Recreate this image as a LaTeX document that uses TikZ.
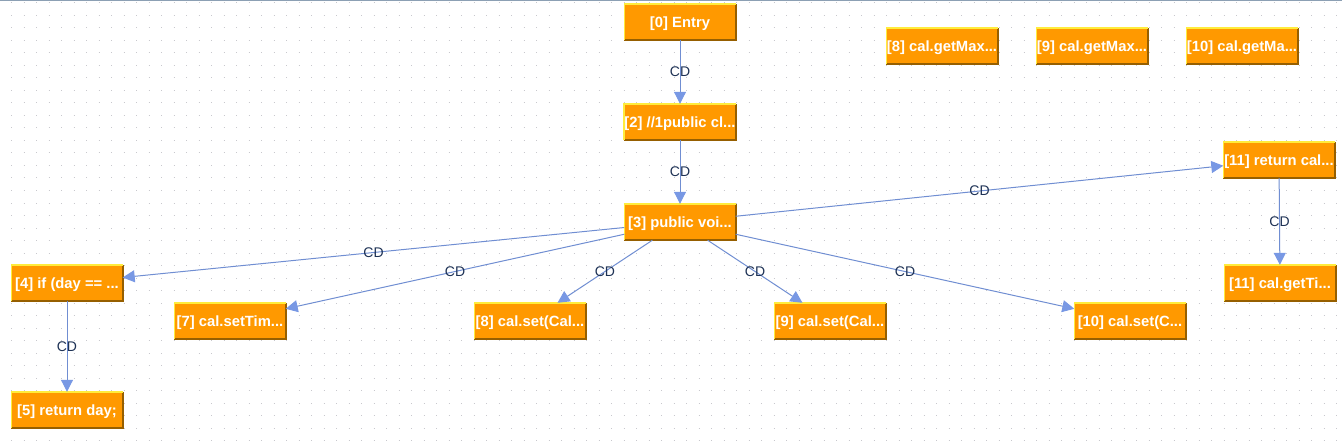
\documentclass[tikz,border=0pt]{standalone}
\usepackage{fontspec}
\setmainfont{Liberation Sans}
\usetikzlibrary{arrows.meta}
\definecolor{nodefill}{RGB}{255,153,0}
\definecolor{nodelight}{RGB}{255,236,60}
\definecolor{nodedark}{RGB}{150,95,0}
\definecolor{edgecol}{RGB}{112,142,210}
\definecolor{tipcol}{RGB}{120,152,228}
\definecolor{labcol}{RGB}{30,50,85}
\definecolor{dotcol}{RGB}{200,200,205}
\definecolor{topline}{RGB}{140,160,180}
\tikzset{
  stmt/.style={fill=nodefill, minimum width=111pt, minimum height=36pt, inner sep=0pt,
    text height=10.6pt, text depth=0pt,
    text=white, font=\fontsize{14.8}{16}\selectfont\bfseries},
  cd/.style={draw=edgecol, line width=1pt,
    -{Triangle[length=12pt,width=12pt,fill=tipcol,color=tipcol]}},
  cdlab/.style={font=\fontsize{14}{15}\selectfont, text=labcol, inner sep=1pt}
}
\begin{document}
\begin{tikzpicture}[x=1pt,y=-1pt]
\useasboundingbox (0,0) rectangle (1342,441);
\fill[white] (0,0) rectangle (1342,441);
% dotted grid
\foreach \yy in {3,15.5,...,441}{
  \draw[dotcol, line width=1pt, dash pattern=on 1pt off 11.5pt] (11.2,\yy) -- (1342,\yy);
}
\draw[topline, line width=1pt] (0,0.5) -- (1342,0.5);

% nodes
\node[stmt] (n0) at (680,22) {[0] Entry};
\node[stmt] (n2) at (680,122) {[2] //1public cl...};
\node[stmt] (n3) at (680,222) {[3] public voi...};
\node[stmt] (g8) at (942,46) {[8] cal.getMax...};
\node[stmt] (g9) at (1092,46) {[9] cal.getMax...};
\node[stmt] (g10) at (1242,46) {[10] cal.getMa...};
\node[stmt] (r11) at (1279,160) {[11] return cal...};
\node[stmt] (t11) at (1280,283) {[11] cal.getTi...};
\node[stmt] (n4) at (67,283) {[4] if (day == ...};
\node[stmt] (n5) at (67,410) {[5] return day;};
\node[stmt] (n7) at (230,321) {[7] cal.setTim...};
\node[stmt] (s8) at (530,321) {[8] cal.set(Cal...};
\node[stmt] (s9) at (830,321) {[9] cal.set(Cal...};
\node[stmt] (s10) at (1130,321) {[10] cal.set(C...};

% bevel borders
\foreach \n in {n0,n2,n3,g8,g9,g10,r11,t11,n4,n5,n7,s8,s9,s10}{
  \draw[nodedark, line width=1.6pt] (\n.south west) -- (\n.south east) -- (\n.north east);
  \draw[nodelight, line width=1.6pt] (\n.south west) -- (\n.north west) -- (\n.north east);
}

% edges
\foreach \a/\b in {n0/n2,n2/n3,n3/n4,n3/n7,n3/s8,n3/s9,n3/s10,n3/r11,n4/n5,r11/t11}{
  \draw[cd] (\a) -- (\b) node[cdlab, midway] {CD};
}
\end{tikzpicture}
\end{document}
